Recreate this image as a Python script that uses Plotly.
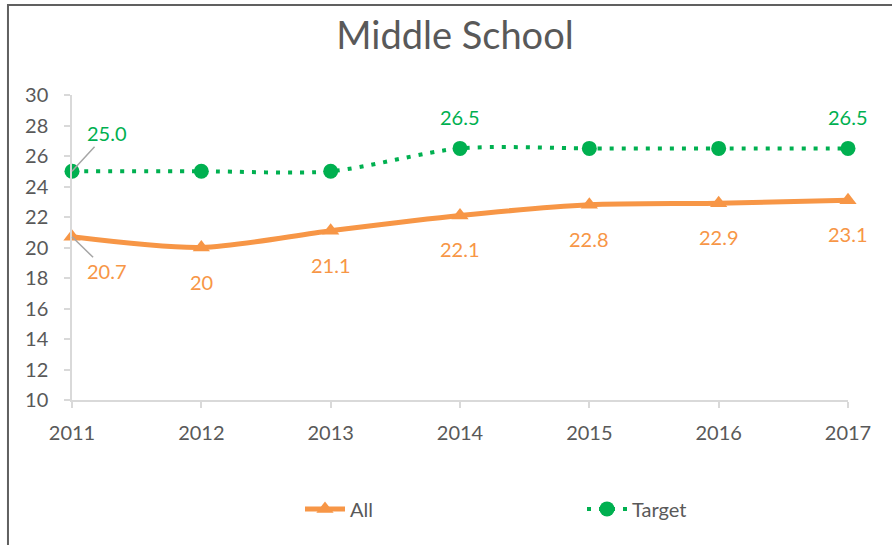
import plotly.graph_objects as go

years = ["2011", "2012", "2013", "2014", "2015", "2016", "2017"]
all_values = [20.7, 20.0, 21.1, 22.1, 22.8, 22.9, 23.1]
all_labels = ["20.7", "20", "21.1", "22.1", "22.8", "22.9", "23.1"]
target_values = [25.0, 25.0, 25.0, 26.5, 26.5, 26.5, 26.5]
target_labels = ["25.0", "", "", "26.5", "", "", "26.5"]
y_ticks = [10, 12, 14, 16, 18, 20, 22, 24, 26, 28, 30]

ORANGE = "#F79646"
GREEN = "#00B050"
TEXT = "#595959"
AXIS = "#D9D9D9"
FONT = "Lato"

fig = go.Figure()
fig.add_trace(go.Scatter(
    x=years, y=all_values, name="All", mode="lines+markers",
    line=dict(color=ORANGE, width=5, shape="spline", smoothing=0.8),
    marker=dict(symbol="triangle-up", size=15, color=ORANGE),
    cliponaxis=False,
))
fig.add_trace(go.Scatter(
    x=years, y=target_values, name="Target", mode="lines+markers",
    line=dict(color=GREEN, width=4, dash="4px,8px", shape="spline", smoothing=0.8),
    marker=dict(symbol="circle", size=15, color=GREEN),
    cliponaxis=False,
))

annotations = []
for i, (v, lab) in enumerate(zip(all_values, all_labels)):
    if i == 0:
        annotations.append(dict(x=i, y=v, xref="x", yref="y", text=lab,
                                showarrow=True, arrowhead=0, arrowwidth=1.5,
                                arrowcolor="#A6A6A6", ax=35, ay=34, standoff=0,
                                font=dict(color=ORANGE, size=20, family=FONT)))
    else:
        annotations.append(dict(x=i, y=v, xref="x", yref="y", text=lab,
                                showarrow=False, yshift=-34,
                                font=dict(color=ORANGE, size=20, family=FONT)))
for i, (v, lab) in enumerate(zip(target_values, target_labels)):
    if not lab:
        continue
    if i == 0:
        annotations.append(dict(x=i, y=v, xref="x", yref="y", text=lab,
                                showarrow=True, arrowhead=0, arrowwidth=1.5,
                                arrowcolor="#A6A6A6", ax=35, ay=-38, standoff=0,
                                font=dict(color=GREEN, size=20, family=FONT)))
    else:
        annotations.append(dict(x=i, y=v, xref="x", yref="y", text=lab,
                                showarrow=False, yshift=31,
                                font=dict(color=GREEN, size=20, family=FONT)))

fig.update_layout(
    width=892, height=545,
    margin=dict(l=72, r=44, t=95, b=145),
    paper_bgcolor="white", plot_bgcolor="white",
    font=dict(family=FONT, color=TEXT, size=20),
    title=dict(text="Middle School", x=455 / 892, xanchor="center", y=1 - 36 / 545,
               yanchor="middle", font=dict(size=38, color=TEXT, family=FONT)),
    xaxis=dict(type="category", range=[0, 6], showgrid=False, zeroline=False,
               showline=True, linecolor=AXIS, linewidth=1.5,
               ticks="outside", ticklen=6, tickcolor=AXIS, tickwidth=1.5,
               ticklabelstandoff=8, tickfont=dict(size=20, color=TEXT)),
    yaxis=dict(range=[10, 30], tickvals=y_ticks, showgrid=False, zeroline=False,
               showline=True, linecolor=AXIS, linewidth=1.5,
               ticks="outside", ticklen=6, tickcolor=AXIS, tickwidth=1.5,
               ticklabelstandoff=12, tickfont=dict(size=20, color=TEXT)),
    legend=dict(orientation="h", x=(300 - 72) / 776, xanchor="left", y=-0.357, yanchor="middle",
                font=dict(size=20, color=TEXT), entrywidth=227, itemwidth=40),
    showlegend=True,
    annotations=annotations,
    shapes=[dict(type="rect", xref="paper", yref="paper",
                 x0=-0.0825, x1=1.5, y0=-1.0, y1=(400 - 5) / 305,
                 line=dict(color="#606060", width=2), fillcolor="rgba(0,0,0,0)",
                 layer="below")],
)

fig.write_html("out.html", config={"displayModeBar": False},
               post_script="document.body.style.margin='0';document.body.style.overflow='hidden';")
